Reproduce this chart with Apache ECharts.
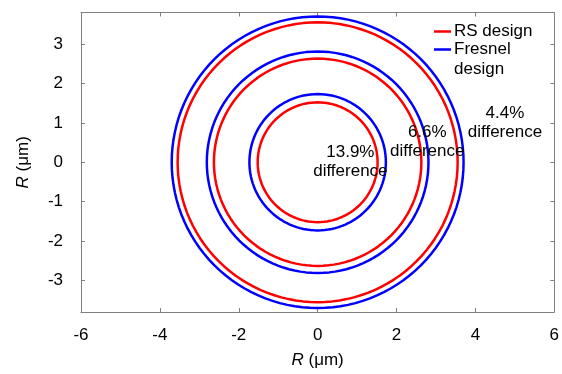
<!DOCTYPE html>
<html>
<head>
<meta charset="utf-8">
<script src="https://cdn.jsdelivr.net/npm/echarts@6/dist/echarts.min.js"></script>
<style>html,body{margin:0;padding:0;background:#fff}#c{width:562px;height:374px}</style>
</head>
<body>
<div id="c"></div>
<script>
// Radii (µm)
var rsRadii = [1.52, 2.63, 3.55];
var fresnelRadii = [1.73, 2.81, 3.70];
var xTicks = [-6, -4, -2, 0, 2, 4, 6];
var yTicks = [-3, -2, -1, 0, 1, 2, 3];
var annoText = ['13.9%\ndifference', '6.6%\ndifference', '4.4%\ndifference'];
var annoX = [0.83, 2.78, 4.75];
var annoY = [0.02, 0.52, 1.01];

var FONT = 'Liberation Sans, Arial, sans-serif';
var FS = 17;
var RED = '#ff0000', BLUE = '#0000ff', AX = '#808080';

function circle(r) {
  var pts = [];
  var n = 120;
  for (var i = 0; i <= n; i++) {
    var t = 2 * Math.PI * i / n;
    pts.push([r * Math.cos(t), r * Math.sin(t)]);
  }
  return pts;
}

var series = [];
rsRadii.forEach(function (r) {
  series.push({ type: 'line', data: circle(r), showSymbol: false, symbol: 'none',
    lineStyle: { color: RED, width: 2.5 }, silent: true, z: 3, animation: false });
});
fresnelRadii.forEach(function (r) {
  series.push({ type: 'line', data: circle(r), showSymbol: false, symbol: 'none',
    lineStyle: { color: BLUE, width: 2.5 }, silent: true, z: 2, animation: false });
});
series.push({
  type: 'scatter', symbolSize: 0, z: 5, animation: false, silent: true,
  itemStyle: { opacity: 1 },
  data: annoX.map(function (x, i) { return { value: [x, annoY[i]], name: annoText[i] }; }),
  label: { show: true, position: 'inside', formatter: function (p) { return p.name; },
    color: '#000', opacity: 1, fontSize: FS, fontFamily: FONT, lineHeight: 19, align: 'center',
    textBorderWidth: 0 },
  emphasis: { disabled: true }
});

function axisBase() {
  return {
    type: 'value',
    axisLine: { show: true, onZero: false, lineStyle: { color: AX, width: 1 } },
    splitLine: { show: false },
    axisTick: { show: true, inside: true, length: 4, lineStyle: { color: AX } }
  };
}
var nameStyle = { color: '#000', fontSize: FS, fontFamily: FONT,
  rich: { i: { fontStyle: 'italic', fontSize: FS, fontFamily: FONT, color: '#000' } } };

var option = {
  backgroundColor: '#fff',
  animation: false,
  grid: { left: 81, right: 6, top: 12.5, bottom: 61.5, containLabel: false },
  xAxis: [
    Object.assign(axisBase(), {
      min: -6, max: 6, interval: 2, position: 'bottom',
      axisLabel: { color: '#000', fontSize: FS, fontFamily: FONT, margin: 15 },
      name: '{i|R} (μm)', nameLocation: 'middle', nameGap: 40, nameTextStyle: nameStyle
    }),
    Object.assign(axisBase(), {
      min: -6, max: 6, interval: 2, position: 'top', axisLabel: { show: false }
    })
  ],
  yAxis: [
    Object.assign(axisBase(), {
      min: -3.8, max: 3.8, position: 'left',
      axisTick: { show: true, inside: true, length: 4, lineStyle: { color: AX }, customValues: yTicks },
      axisLabel: { color: '#000', fontSize: FS, fontFamily: FONT, margin: 18, customValues: yTicks },
      name: '{i|R} (μm)', nameLocation: 'middle', nameGap: 49, nameRotate: 90, nameTextStyle: nameStyle
    }),
    Object.assign(axisBase(), {
      min: -3.8, max: 3.8, position: 'right',
      axisTick: { show: true, inside: true, length: 4, lineStyle: { color: AX }, customValues: yTicks },
      axisLabel: { show: false, customValues: yTicks }
    })
  ],
  series: series,
  graphic: [
    { type: 'line', shape: { x1: 434, y1: 31.5, x2: 451, y2: 31.5 }, style: { stroke: RED, lineWidth: 2.5 }, z: 10 },
    { type: 'text', x: 454, y: 31.5, style: { text: 'RS design', fill: '#000', fontSize: FS, fontFamily: FONT, verticalAlign: 'middle' }, z: 10 },
    { type: 'line', shape: { x1: 434, y1: 49.5, x2: 451, y2: 49.5 }, style: { stroke: BLUE, lineWidth: 2.5 }, z: 10 },
    { type: 'text', x: 454, y: 49.5, style: { text: 'Fresnel', fill: '#000', fontSize: FS, fontFamily: FONT, verticalAlign: 'middle' }, z: 10 },
    { type: 'text', x: 454, y: 69, style: { text: 'design', fill: '#000', fontSize: FS, fontFamily: FONT, verticalAlign: 'middle' }, z: 10 }
  ]
};

var chart = echarts.init(document.getElementById('c'), null, { renderer: 'canvas' });
chart.setOption(option);
</script>
</body>
</html>
